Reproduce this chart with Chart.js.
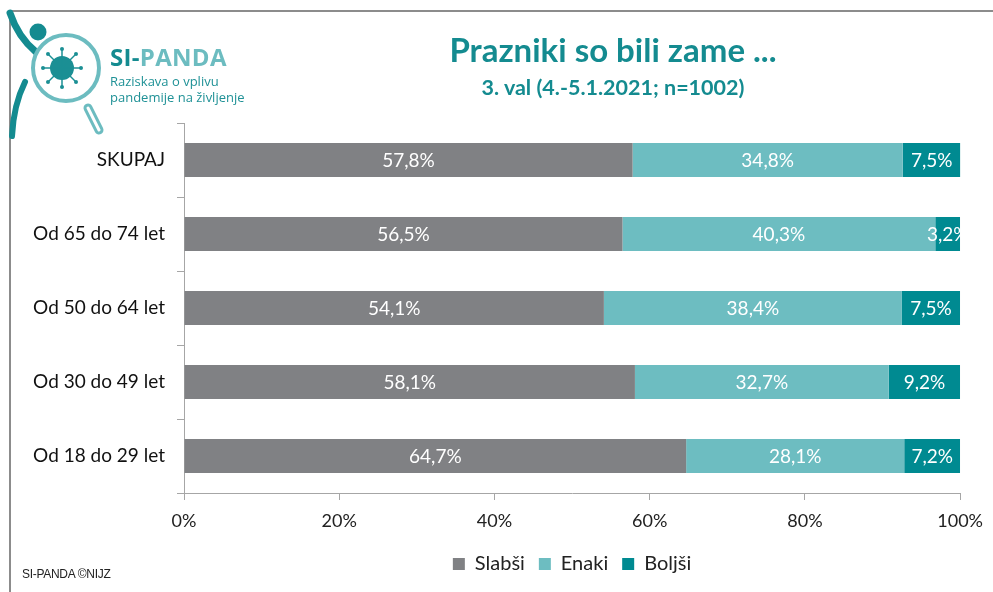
<!DOCTYPE html>
<html>
<head>
<meta charset="utf-8">
<script src="https://cdn.jsdelivr.net/npm/chart.js@4/dist/chart.umd.min.js"></script>
<style>
  html, body { margin: 0; padding: 0; background: #fff; }
  #wrap { position: relative; width: 993px; height: 592px; overflow: hidden; font-family: Lato, "Open Sans", sans-serif; }
  #frame { position: absolute; left: 9px; top: 10px; right: -5px; bottom: -5px; border-left: 2px solid #8c8c8c; border-top: 2px solid #8c8c8c; }
  #chart { position: absolute; left: 0; top: 0; }
  .title { position: absolute; left: 413px; width: 400px; text-align: center; color: #148b90; font-weight: bold; }
  #t1 { top: 29px; font-size: 33px; }
  #t2 { top: 74px; font-size: 21.5px; }
  #logo { position: absolute; left: 0; top: 0; }
  .brand { position: absolute; left: 110px; font-family: "Open Sans", sans-serif; }
  #b1 { top: 40px; font-size: 24px; font-weight: bold; color: #6cbcc0; letter-spacing: 0.3px; }
  #b1 span { color: #148b90; }
  #b2 { top: 73px; font-size: 13px; line-height: 16px; color: #1f9196; }
  #foot { position: absolute; left: 22px; top: 567px; font-size: 12px; color: #222; font-family: "Liberation Sans", sans-serif; letter-spacing: -0.3px; }
</style>
</head>
<body>
<div id="wrap">
  <canvas id="chart" width="993" height="592"></canvas>
  <div id="frame"></div>
  <svg id="logo" width="110" height="140" viewBox="0 0 110 140">
    <path d="M10 13 C 15 28, 24 42, 36 52" stroke="#148b90" stroke-width="7" fill="none" stroke-linecap="round"/>
    <circle cx="38" cy="32" r="8.5" fill="#148b90"/>
    <path d="M25 82 C 17 98, 13 116, 12 136" stroke="#148b90" stroke-width="6" fill="none" stroke-linecap="round"/>
    <circle cx="66" cy="68" r="33" stroke="#6cbcc0" stroke-width="4" fill="#fff"/>
    <path d="M88 108 L 99 130" stroke="#6cbcc0" stroke-width="9" stroke-linecap="round"/>
    <path d="M88 108 L 99 130" stroke="#fff" stroke-width="3" stroke-linecap="round"/>
    <circle cx="62" cy="68" r="12" fill="#1b8f94"/>
    <g stroke="#1b8f94" stroke-width="1.5">
      <line x1="62" y1="50" x2="62" y2="86"/>
      <line x1="44" y1="68" x2="80" y2="68"/>
      <line x1="49" y1="55" x2="75" y2="81"/>
      <line x1="75" y1="55" x2="49" y2="81"/>
    </g>
    <g fill="#1b8f94">
      <circle cx="62" cy="49" r="2"/><circle cx="62" cy="87" r="2"/>
      <circle cx="43" cy="68" r="2"/><circle cx="81" cy="68" r="2"/>
      <circle cx="48" cy="54" r="2"/><circle cx="76" cy="82" r="2"/>
      <circle cx="76" cy="54" r="2"/><circle cx="48" cy="82" r="2"/>
    </g>
  </svg>
  <div class="brand" id="b1"><span>SI-</span>PANDA</div>
  <div class="brand" id="b2">Raziskava o vplivu<br>pandemije na življenje</div>
  <div class="title" id="t1">Prazniki so bili zame ...</div>
  <div class="title" id="t2">3. val (4.-5.1.2021; n=1002)</div>
  <div id="foot">SI-PANDA ©NIJZ</div>
</div>
<script>
var categories = ['SKUPAJ', 'Od 65 do 74 let', 'Od 50 do 64 let', 'Od 30 do 49 let', 'Od 18 do 29 let'];
var slabsi = [57.8, 56.5, 54.1, 58.1, 64.7];
var enaki = [34.8, 40.3, 38.4, 32.7, 28.1];
var boljsi = [7.5, 3.2, 7.5, 9.2, 7.2];
var xTicks = [0, 20, 40, 60, 80, 100];

function fmt(v) {
  return v.toFixed(1).replace('.', ',') + '%';
}

// white value labels in the middle of each segment
var valueLabels = {
  id: 'valueLabels',
  afterDatasetsDraw: function(chart) {
    var ctx = chart.ctx;
    ctx.save();
    ctx.fillStyle = '#fff';
    ctx.font = '19px Lato, sans-serif';
    ctx.textAlign = 'center';
    ctx.textBaseline = 'middle';
    chart.data.datasets.forEach(function(ds, i) {
      var meta = chart.getDatasetMeta(i);
      meta.data.forEach(function(bar, j) {
        ctx.fillText(fmt(ds.data[j]), (bar.x + bar.base) / 2, bar.y + 1);
      });
    });
    ctx.restore();
  }
};

// center the legend under the plot area, not the whole canvas
var legendUnderPlot = {
  id: 'legendUnderPlot',
  afterLayout: function(chart) {
    if (chart.legend) {
      chart.legend.left = chart.chartArea.left;
      chart.legend.right = chart.chartArea.right;
    }
  }
};

var chart = new Chart(document.getElementById('chart'), {
  type: 'bar',
  data: {
    labels: categories,
    datasets: [
      { label: 'Slabši', data: slabsi, backgroundColor: '#808184' },
      { label: 'Enaki', data: enaki, backgroundColor: '#6dbdc1' },
      { label: 'Boljši', data: boljsi, backgroundColor: '#008a91' }
    ]
  },
  options: {
    indexAxis: 'y',
    responsive: false,
    animation: false,
    categoryPercentage: 1,
    barPercentage: 0.46,
    layout: { padding: { left: 0, right: 31, top: 123, bottom: 8 } },
    scales: {
      x: {
        stacked: true,
        min: 0,
        max: 100,
        afterBuildTicks: function(scale) {
          scale.ticks = xTicks.map(function(v) { return { value: v }; });
        },
        afterFit: function(scale) { scale.height = 47; },
        grid: { drawOnChartArea: false, tickLength: 7, color: '#a6a6a6' },
        border: { color: '#a6a6a6', width: 1 },
        ticks: {
          padding: 10,
          color: '#222',
          font: { family: 'Lato', size: 18 },
          callback: function(v) { return v + '%'; }
        }
      },
      y: {
        stacked: true,
        afterFit: function(scale) { scale.width = 184; },
        grid: { drawOnChartArea: false, tickLength: 7, color: '#a6a6a6', offset: true },
        border: { color: '#a6a6a6', width: 1 },
        ticks: {
          padding: 12,
          color: '#111',
          font: { family: 'Lato', size: 19 }
        }
      }
    },
    plugins: {
      legend: {
        position: 'bottom',
        labels: {
          boxWidth: 12,
          boxHeight: 12,
          padding: 14,
          color: '#222',
          font: { family: 'Lato', size: 20 }
        }
      },
      tooltip: { enabled: false }
    }
  },
  plugins: [valueLabels, legendUnderPlot]
});
</script>
</body>
</html>
